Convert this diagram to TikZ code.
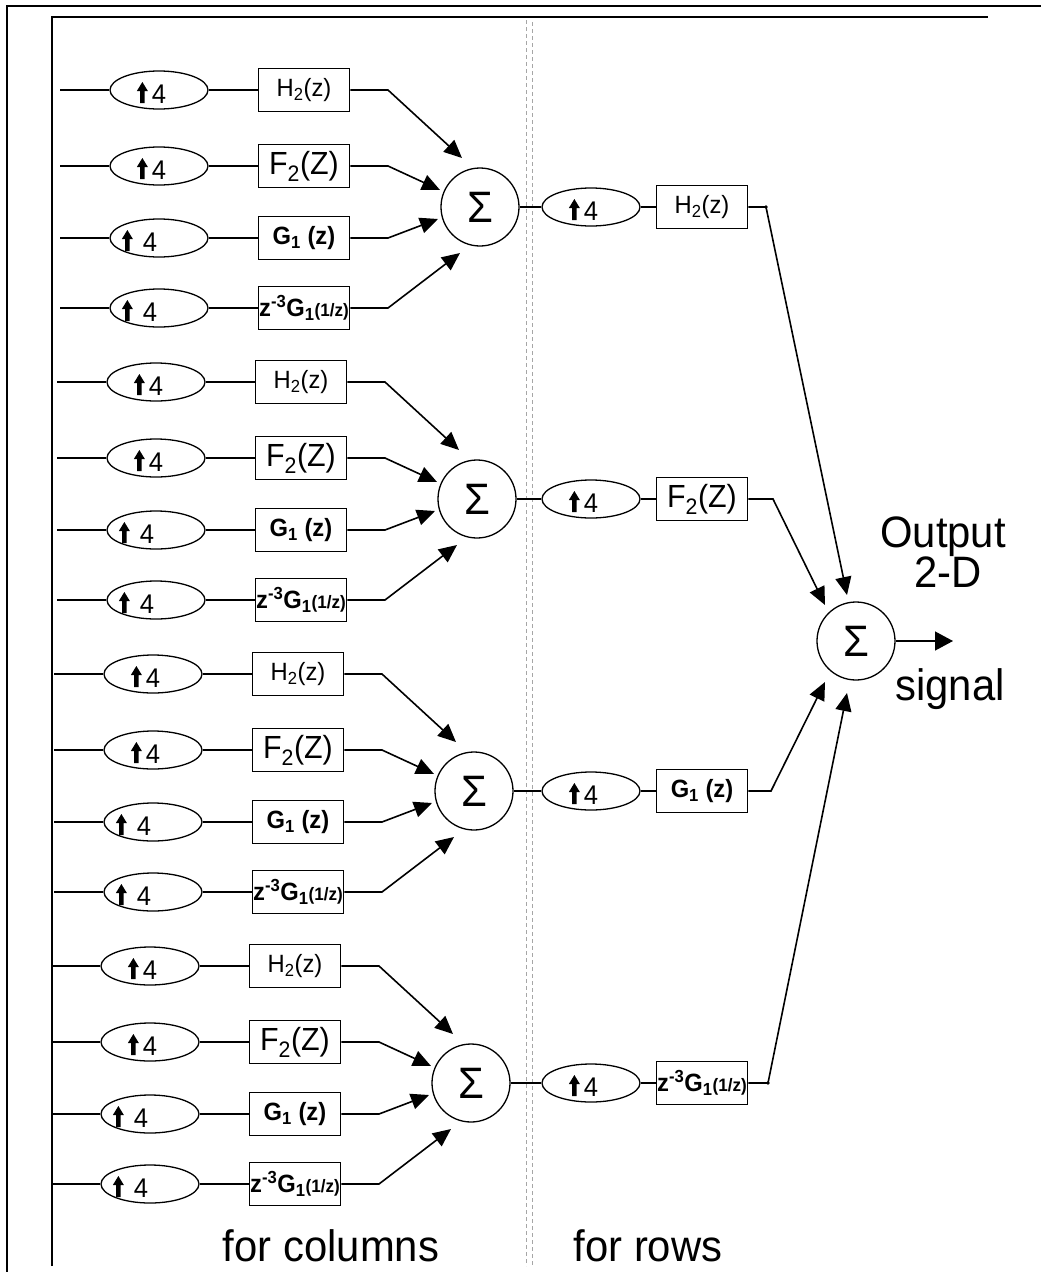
\documentclass[tikz,border=0pt]{standalone}
\usepackage{fontspec}
\setmainfont{Liberation Sans}[FakeStretch=0.95]
\usetikzlibrary{shapes.geometric,arrows.meta,positioning}

% filter labels
\newcommand{\Htwo}{\fontsize{25}{28}\selectfont H\textsubscript{2}(z)}
\newcommand{\Ftwo}{\fontsize{32}{36}\selectfont F\textsubscript{2}(Z)}
\newcommand{\Gone}{\fontsize{25}{28}\selectfont\bfseries G\textsubscript{1} (z)}
\newcommand{\Gmir}{\fontsize{25}{28}\selectfont\bfseries z\textsuperscript{-3}G\textsubscript{1}{\fontsize{18}{20}\selectfont(1/z)}}

% up-sampler labels
\newcommand{\upar}{\tikz[baseline=0pt,x=1pt,y=1pt]\fill (-2.3,0) -- (-2.3,12) -- (-5.5,12) -- (0,21) -- (5.5,12) -- (2.3,12) -- (2.3,0) -- cycle;}
\newcommand{\upnear}{\llap{\upar\hspace{4pt}}4}
\newcommand{\upfar}{\llap{\upar\hspace{10pt}}4\hspace*{18pt}}

\tikzset{
  wire/.style={line width=1.5pt},
  feed/.style={line width=1.6pt, -{Triangle[length=18pt,width=16pt]}},
  filt/.style={draw, line width=1.6pt, minimum width=91pt, minimum height=43pt, inner sep=0pt},
  upsamp/.style={draw, ellipse, line width=1.3pt, minimum width=98pt, minimum height=38pt,
    inner sep=0pt, text height=26pt, text depth=0pt, font=\fontsize{27}{30}\selectfont},
  adder/.style={draw, circle, line width=1.3pt, minimum size=78pt, inner sep=0pt, font=\fontsize{44}{48}\selectfont},
  divider/.style={gray!70, line width=0.9pt, dash pattern=on 4pt off 3pt},
  caption/.style={anchor=base, font=\fontsize{44}{48}\selectfont}
}

\begin{document}
\begin{tikzpicture}[x=1pt, y=-1pt]
  \useasboundingbox (0,0) rectangle (1041,1272);

  % frames
  \draw[line width=2pt] (7,1272) -- (7,6) -- (1041,6);
  \draw[line width=1.3pt] (52,1266) -- (52,17) -- (988,17);

  % column / row divider
  \draw[divider] (526,20) -- (526,1266);
  \draw[divider] (532,22) -- (532,1266);

  % synthesis for columns: four groups of four branches
  \foreach \g in {0,...,3} {
    \begin{scope}[shift={(-3*\g,292*\g)}]
      \node[adder] (sum\g) at (480,207) {Σ};
      \foreach \i/\dy/\lab/\ut/\ex/\ey in {1/0/\Htwo/\upnear/-18/-49, 2/76/\Ftwo/\upnear/-40/-17,
                                           3/148/\Gone/\upfar/-42/12, 4/218/\Gmir/\upfar/-20/46} {
        \coordinate (in\g\i) at (60,90+\dy);
        \node[upsamp] (up\g\i) at (159,90+\dy) {\ut};
        \node[filt] (flt\g\i) at (304,90+\dy) {\lab};
        \coordinate (bend\g\i) at (388,90+\dy);
        \draw[wire] (in\g\i) -- (up\g\i) -- (flt\g\i);
        \draw[feed] (flt\g\i) -- (bend\g\i) -- ([shift={(\ex,\ey)}]sum\g.center);
      }
    \end{scope}
  }

  % synthesis for rows
  \node[adder] (fsum) at (856,641) {Σ};
  \foreach \g/\lab/\bx/\ex/\ey in {0/\Htwo/766/-9/-46, 1/\Ftwo/773/-31/-36,
                                   2/\Gone/771/-31/41, 3/\Gmir/768/-9/52} {
    \node[upsamp] (rup\g) at (591,207+292*\g) {\upnear};
    \node[filt] (rflt\g) at (702,207+292*\g) {\lab};
    \coordinate (rbend\g) at (\bx,207+292*\g);
    \draw[wire] (sum\g) -- (rup\g) -- (rflt\g);
    \draw[feed] (rflt\g) -- (rbend\g) -- ([shift={(\ex,\ey)}]fsum.center);
  }
  \fill (rbend0) circle (1.8pt);
  \fill (rbend3) circle (1.8pt);

  % output
  \coordinate (out) at (953,641);
  \draw[line width=1.3pt, -{Triangle[length=18pt,width=19pt]}] (fsum) -- (out);
  \node[caption] (outtxt) at (943,547) {Output};
  \node[caption] (dimtxt) at (948,587) {2-D};
  \node[caption] (sigtxt) at (950,700) {signal};

  % captions
  \node[caption] (coltxt) at (331,1261) {for columns};
  \node[caption] (rowtxt) at (648,1261) {for rows};
\end{tikzpicture}
\end{document}
